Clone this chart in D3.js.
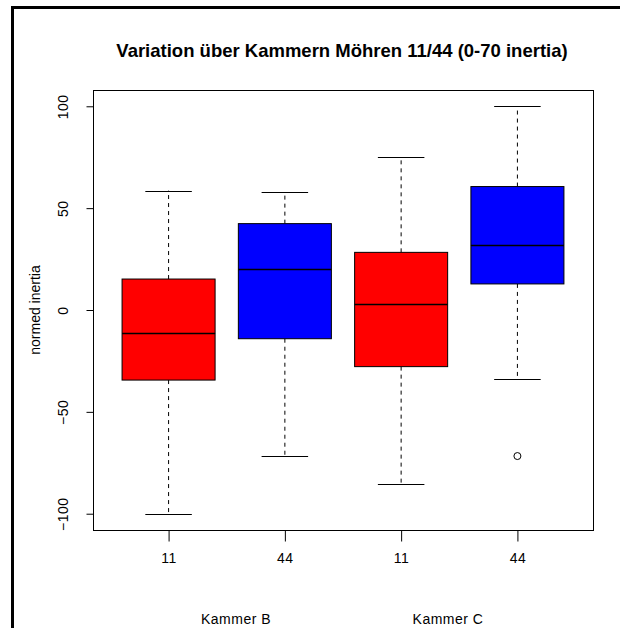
<!DOCTYPE html>
<html>
<head>
<meta charset="utf-8">
<script src="https://cdn.jsdelivr.net/npm/d3@7"></script>
<style>
  body { margin: 0; background: #fff; }
  text { font-family: 'Liberation Sans', Arial, sans-serif; fill: #000; }
</style>
</head>
<body>
<svg id="chart" width="620" height="628"></svg>
<script>
const groupLabels = ['11', '44', '11', '44'];
const kammerLabels = ['Kammer B', 'Kammer C'];
const boxColors = ['#ff0000', '#0000ff', '#ff0000', '#0000ff'];
const lowerWhisker = [-100, -71.6, -85.5, -34];
const q1 = [-34.4, -14.1, -27.8, 12.8];
const median = [-11.3, 20.1, 3.1, 32.1];
const q3 = [15.2, 42.4, 28.3, 60.6];
const upperWhisker = [58.6, 58, 75.3, 100];
const outliers = [[], [], [], [-71.7]];
const yTicks = [-100, -50, 0, 50, 100];

const svg = d3.select('#chart');

const plot = { left: 93, right: 593, top: 90, bottom: 530 };
const x = d3.scaleLinear().domain([0.35, 4.65]).range([plot.left, plot.right]);
const y = d3.scaleLinear().domain([-108, 108]).range([plot.bottom, plot.top]);

const boxHalf = (x(2) - x(1)) * 0.4;
const capHalf = boxHalf / 2;

const data = groupLabels.map((label, i) => ({
  pos: i + 1,
  label,
  color: boxColors[i],
  lo: lowerWhisker[i],
  q1: q1[i],
  med: median[i],
  q3: q3[i],
  hi: upperWhisker[i],
  out: outliers[i]
}));

// frame of the screenshot
svg.append('line').attr('x1', 12.5).attr('x2', 12.5).attr('y1', 6).attr('y2', 628)
  .attr('stroke', '#000').attr('stroke-width', 3);
svg.append('line').attr('x1', 11).attr('x2', 620).attr('y1', 7.5).attr('y2', 7.5)
  .attr('stroke', '#000').attr('stroke-width', 3);

// title
svg.append('text')
  .attr('x', (plot.left + plot.right) / 2 - 1)
  .attr('y', 57)
  .attr('text-anchor', 'middle')
  .style('font-size', '18.5px')
  .style('font-weight', 'bold')
  .text('Variation über Kammern Möhren 11/44 (0-70 inertia)');

const boxes = svg.append('g').selectAll('g').data(data).join('g');

// whiskers
boxes.append('line')
  .attr('x1', (d) => x(d.pos)).attr('x2', (d) => x(d.pos))
  .attr('y1', (d) => y(d.q3)).attr('y2', (d) => y(d.hi))
  .attr('stroke', '#000').attr('stroke-dasharray', '4,4');
boxes.append('line')
  .attr('x1', (d) => x(d.pos)).attr('x2', (d) => x(d.pos))
  .attr('y1', (d) => y(d.q1)).attr('y2', (d) => y(d.lo))
  .attr('stroke', '#000').attr('stroke-dasharray', '4,4');

// caps
boxes.append('line')
  .attr('x1', (d) => x(d.pos) - capHalf).attr('x2', (d) => x(d.pos) + capHalf)
  .attr('y1', (d) => Math.round(y(d.hi)) + 0.5).attr('y2', (d) => Math.round(y(d.hi)) + 0.5)
  .attr('stroke', '#000');
boxes.append('line')
  .attr('x1', (d) => x(d.pos) - capHalf).attr('x2', (d) => x(d.pos) + capHalf)
  .attr('y1', (d) => Math.round(y(d.lo)) + 0.5).attr('y2', (d) => Math.round(y(d.lo)) + 0.5)
  .attr('stroke', '#000');

// boxes
boxes.append('rect')
  .attr('x', (d) => x(d.pos) - boxHalf)
  .attr('width', boxHalf * 2)
  .attr('y', (d) => y(d.q3))
  .attr('height', (d) => y(d.q1) - y(d.q3))
  .attr('fill', (d) => d.color)
  .attr('stroke', '#000');

// medians
boxes.append('line')
  .attr('x1', (d) => x(d.pos) - boxHalf).attr('x2', (d) => x(d.pos) + boxHalf)
  .attr('y1', (d) => Math.round(y(d.med)) + 0.5).attr('y2', (d) => Math.round(y(d.med)) + 0.5)
  .attr('stroke', '#000').attr('stroke-width', 1.5);

// outliers
boxes.selectAll('circle')
  .data((d) => d.out.map((v) => ({ pos: d.pos, v })))
  .join('circle')
  .attr('cx', (d) => x(d.pos))
  .attr('cy', (d) => y(d.v))
  .attr('r', 3.5)
  .attr('fill', 'none')
  .attr('stroke', '#000');

// plot frame
svg.append('rect')
  .attr('x', plot.left + 0.5).attr('y', plot.top + 0.5)
  .attr('width', plot.right - plot.left).attr('height', plot.bottom - plot.top)
  .attr('fill', 'none').attr('stroke', '#000');

const labelFont = "'Liberation Sans', Arial, sans-serif";

// y axis
const yAxis = svg.append('g')
  .attr('transform', `translate(${plot.left + 0.5},0)`)
  .call(d3.axisLeft(y).tickValues(yTicks).tickSize(7).tickPadding(0).tickFormat(d3.format('d')));
yAxis.select('.domain').remove();
yAxis.selectAll('.tick line').attr('stroke', '#000');
yAxis.selectAll('.tick text')
  .attr('x', 0).attr('dy', 0)
  .attr('transform', 'translate(-26,0) rotate(-90)')
  .attr('text-anchor', 'middle')
  .style('font-size', '14px')
  .style('letter-spacing', '0.5px')
  .style('font-family', labelFont);

// x axis
const xAxis = svg.append('g')
  .attr('transform', `translate(0,${plot.bottom + 0.5})`)
  .call(d3.axisBottom(x).tickValues(data.map((d) => d.pos)).tickSize(11).tickPadding(12)
    .tickFormat((d, i) => groupLabels[i]));
xAxis.select('.domain').remove();
xAxis.selectAll('.tick line').attr('stroke', '#000');
xAxis.selectAll('.tick text')
  .style('font-size', '14px')
  .style('letter-spacing', '0.5px')
  .style('font-family', labelFont);

// axis title
svg.append('text')
  .attr('transform', `translate(40,${y(0)}) rotate(-90)`)
  .attr('text-anchor', 'middle')
  .style('font-size', '14px')
  .text('normed inertia');

// group labels
svg.selectAll('.kammer')
  .data(kammerLabels)
  .join('text')
  .attr('class', 'kammer')
  .attr('x', (d, i) => i === 0 ? 236 : 448)
  .attr('y', 624)
  .attr('text-anchor', 'middle')
  .style('font-size', '14px')
  .style('letter-spacing', '0.5px')
  .text((d) => d);
</script>
</body>
</html>
